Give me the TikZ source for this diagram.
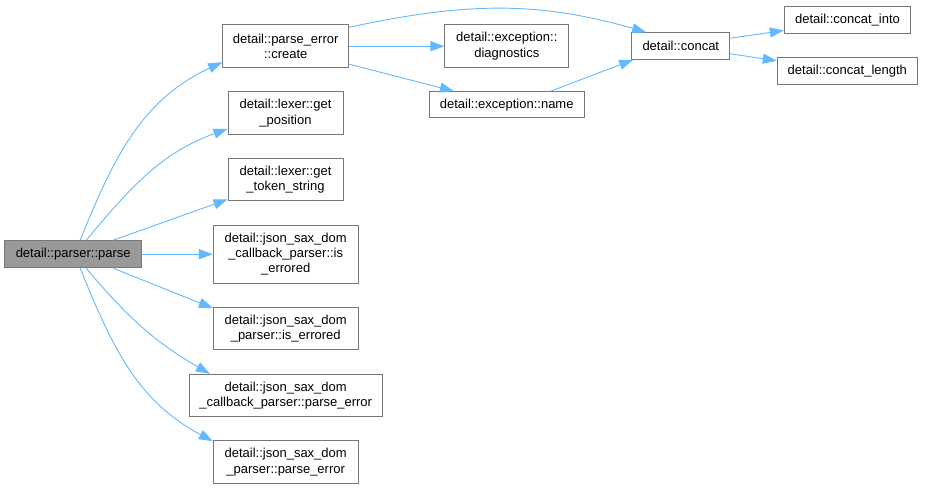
\documentclass[tikz,border=0pt]{standalone}
\usepackage{fontspec}
\setmainfont{Liberation Sans}
\usepackage{tikz}
\usetikzlibrary{arrows.meta}
\definecolor{edgeblue}{HTML}{63B8FF}
\definecolor{boxline}{HTML}{777777}
\definecolor{rootfill}{HTML}{999999}

\begin{document}
\begin{tikzpicture}[x=1pt,y=1pt,
    fn/.style={draw=boxline,line width=1pt,fill=white,inner sep=0pt,align=center,
      font=\fontsize{13}{15.3}\selectfont},
    call/.style={-{Triangle[length=14pt,width=10pt]},edgeblue,line width=0.9pt}]
    \useasboundingbox (0,0) rectangle (928,-489);
    \node[fn,fill=rootfill,minimum width=137pt,minimum height=27pt] (parse) at (73.2,-254.2)
      {detail::parser::parse};
    \node[fn,minimum width=126pt,minimum height=43pt] (create) at (285.7,-46.2)
      {detail::parse\_error\\::create};
    \node[fn,minimum width=115pt,minimum height=42.6pt] (getpos) at (285.5,-113)
      {detail::lexer::get\\\_position};
    \node[fn,minimum width=115pt,minimum height=42.3pt] (gettok) at (285.5,-179.8)
      {detail::lexer::get\\\_token\_string};
    \node[fn,minimum width=144.7pt,minimum height=58.3pt] (cbiserr) at (285.7,-254.2)
      {detail::json\_sax\_dom\\\_callback\_parser::is\\\_errored};
    \node[fn,minimum width=144.7pt,minimum height=42.3pt] (piserr) at (285.7,-328.8)
      {detail::json\_sax\_dom\\\_parser::is\_errored};
    \node[fn,minimum width=192.7pt,minimum height=42.4pt] (cbperr) at (285.7,-395.5)
      {detail::json\_sax\_dom\\\_callback\_parser::parse\_error};
    \node[fn,minimum width=144.7pt,minimum height=42.6pt] (pperr) at (285.7,-462)
      {detail::json\_sax\_dom\\\_parser::parse\_error};
    \node[fn,minimum width=123.7pt,minimum height=43.4pt] (diag) at (506.8,-46.2)
      {detail::exception::\\diagnostics};
    \node[fn,minimum width=154.7pt,minimum height=26.3pt] (name) at (506.7,-104.8)
      {detail::exception::name};
    \node[fn,minimum width=98.3pt,minimum height=26.6pt] (concat) at (680.8,-46)
      {detail::concat};
    \node[fn,minimum width=126.4pt,minimum height=27.3pt] (cinto) at (847.5,-20.3)
      {detail::concat\_into};
    \node[fn,minimum width=140pt,minimum height=27.4pt] (clen) at (847.3,-71)
      {detail::concat\_length};
    \draw[call] ([xshift=7pt]parse.north) to[out=68,in=205] ([yshift=6pt]create.south west);
    \draw[call] ([xshift=13pt]parse.north) to[out=50,in=200] ([yshift=6pt]getpos.south west);
    \draw[call] ([xshift=40pt]parse.north) -- ([yshift=2pt]gettok.south west);
    \draw[call] (parse.east) -- (cbiserr.west);
    \draw[call] ([xshift=40pt]parse.south) -- ([yshift=-1pt]piserr.north west);
    \draw[call] ([xshift=13pt]parse.south) to[out=-50,in=150] ([xshift=21pt]cbperr.north west);
    \draw[call] ([xshift=7pt]parse.south) to[out=-68,in=152] ([yshift=-1pt]pperr.north west);
    \draw[call] ([yshift=-3pt]create.north east) to[out=12,in=164] ([xshift=15pt]concat.north west);
    \draw[call] (create.east) -- (diag.west);
    \draw[call] ([yshift=4pt]create.south east) -- ([xshift=25pt]name.north west);
    \draw[call] ([xshift=44pt]name.north) -- ([xshift=2pt]concat.south west);
    \draw[call] ([yshift=-6pt]concat.north east) -- ([yshift=4pt]cinto.south west);
    \draw[call] ([yshift=6pt]concat.south east) -- ([yshift=-4pt]clen.north west);
  \end{tikzpicture}
\end{document}
